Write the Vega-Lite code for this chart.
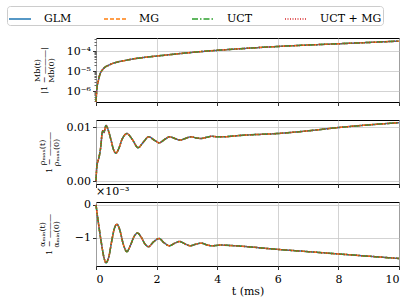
{
  "$schema": "https://vega.github.io/schema/vega-lite/v6.json",
  "padding": {"left": 6, "top": 5, "right": 5, "bottom": 5},
  "background": "white",
  "spacing": 18,
  "bounds": "flush",
  "datasets": {
    "m": [
      {"t": 0, "v": 2.9e-7}, {"t": 0.01, "v": 5e-7}, {"t": 0.02, "v": 9e-7}, {"t": 0.04, "v": 1.8e-6},
      {"t": 0.07, "v": 2.9e-6}, {"t": 0.1, "v": 4.8e-6}, {"t": 0.14, "v": 7.6e-6}, {"t": 0.2, "v": 1.1e-5},
      {"t": 0.31, "v": 1.64e-5}, {"t": 0.42, "v": 2.0e-5}, {"t": 0.53, "v": 2.4e-5}, {"t": 0.75, "v": 3.0e-5},
      {"t": 0.97, "v": 3.5e-5}, {"t": 1.25, "v": 4.2e-5}, {"t": 1.52, "v": 4.8e-5}, {"t": 2.01, "v": 5.8e-5},
      {"t": 2.5, "v": 7.0e-5}, {"t": 2.95, "v": 8.2e-5}, {"t": 3.5, "v": 9.8e-5}, {"t": 4, "v": 1.12e-4},
      {"t": 5, "v": 1.43e-4}, {"t": 6, "v": 1.76e-4}, {"t": 7, "v": 2.08e-4}, {"t": 8, "v": 2.4e-4},
      {"t": 9, "v": 2.8e-4}, {"t": 10, "v": 3.27e-4}
    ],
    "rho": [
      {"t": 0, "v": 0.0001}, {"t": 0.03, "v": 0.0029}, {"t": 0.07, "v": 0.0038}, {"t": 0.11, "v": 0.0047},
      {"t": 0.16, "v": 0.0065}, {"t": 0.2, "v": 0.0088}, {"t": 0.22, "v": 0.0093}, {"t": 0.26, "v": 0.009},
      {"t": 0.33, "v": 0.0103}, {"t": 0.4, "v": 0.0095}, {"t": 0.5, "v": 0.0075}, {"t": 0.58, "v": 0.0058},
      {"t": 0.66, "v": 0.0052}, {"t": 0.75, "v": 0.006}, {"t": 0.85, "v": 0.0076}, {"t": 1.02, "v": 0.0088},
      {"t": 1.2, "v": 0.0077}, {"t": 1.39, "v": 0.0062}, {"t": 1.56, "v": 0.0072}, {"t": 1.74, "v": 0.0082},
      {"t": 1.92, "v": 0.0076}, {"t": 2.09, "v": 0.0071}, {"t": 2.26, "v": 0.0077}, {"t": 2.43, "v": 0.0082},
      {"t": 2.6, "v": 0.0079}, {"t": 2.77, "v": 0.0076}, {"t": 2.95, "v": 0.0079}, {"t": 3.13, "v": 0.0082},
      {"t": 3.3, "v": 0.008}, {"t": 3.47, "v": 0.0079}, {"t": 3.65, "v": 0.0081}, {"t": 3.82, "v": 0.0083},
      {"t": 4.0, "v": 0.0082}, {"t": 4.15, "v": 0.0082}, {"t": 4.86, "v": 0.0085}, {"t": 5.97, "v": 0.0088},
      {"t": 7, "v": 0.0093}, {"t": 7.98, "v": 0.0099}, {"t": 9, "v": 0.0104}, {"t": 10, "v": 0.0108}
    ],
    "alpha": [
      {"t": 0, "v": 0}, {"t": 0.07, "v": -0.49}, {"t": 0.18, "v": -1.18}, {"t": 0.26, "v": -1.6},
      {"t": 0.33, "v": -1.77}, {"t": 0.42, "v": -1.6}, {"t": 0.52, "v": -1.1}, {"t": 0.6, "v": -0.74},
      {"t": 0.69, "v": -0.59}, {"t": 0.78, "v": -0.75}, {"t": 0.9, "v": -1.2}, {"t": 1.02, "v": -1.43},
      {"t": 1.13, "v": -1.25}, {"t": 1.25, "v": -0.98}, {"t": 1.37, "v": -0.86}, {"t": 1.5, "v": -1.0},
      {"t": 1.62, "v": -1.2}, {"t": 1.73, "v": -1.28}, {"t": 1.9, "v": -1.13}, {"t": 2.08, "v": -1.03},
      {"t": 2.25, "v": -1.16}, {"t": 2.42, "v": -1.25}, {"t": 2.6, "v": -1.17}, {"t": 2.76, "v": -1.12},
      {"t": 2.95, "v": -1.2}, {"t": 3.11, "v": -1.25}, {"t": 3.3, "v": -1.2}, {"t": 3.48, "v": -1.17},
      {"t": 3.65, "v": -1.22}, {"t": 3.82, "v": -1.25}, {"t": 4.1, "v": -1.23}, {"t": 4.74, "v": -1.26},
      {"t": 5.97, "v": -1.36}, {"t": 7, "v": -1.43}, {"t": 7.98, "v": -1.5}, {"t": 9, "v": -1.57},
      {"t": 10, "v": -1.64}
    ]
  },
  "config": {
    "font": "DejaVu Serif",
    "view": {"stroke": "black", "strokeWidth": 1},
    "axis": {
      "domain": false,
      "tickColor": "black",
      "tickSize": 3.5,
      "tickWidth": 0.8,
      "labelFont": "DejaVu Serif",
      "labelFontSize": 11,
      "labelColor": "black",
      "titleFont": "DejaVu Serif",
      "titleFontWeight": "normal",
      "titleColor": "black",
      "gridColor": "#c8c8c8",
      "gridWidth": 0.8
    },
    "legend": {
      "orient": "none",
      "legendX": -89,
      "legendY": -32,
      "direction": "horizontal",
      "columns": 4,
      "columnPadding": 29,
      "strokeColor": "#cccccc",
      "cornerRadius": 3,
      "padding": 1,
      "fillColor": "white",
      "symbolType": "stroke",
      "symbolSize": 484,
      "symbolStrokeWidth": 1.5,
      "labelFont": "DejaVu Serif",
      "labelFontSize": 11,
      "labelColor": "black",
      "labelOffset": 12
    },
    "title": {"font": "DejaVu Serif", "fontWeight": "normal", "fontSize": 11, "color": "black"}
  },
  "vconcat": [
    {
      "width": 303,
      "height": 64,
      "data": {"name": "m"},
      "encoding": {
        "x": {"field": "t", "type": "quantitative", "scale": {"domain": [0, 10], "nice": false},
              "axis": {"values": [0, 2, 4, 6, 8, 10], "labels": false, "title": null}},
        "y": {"field": "v", "type": "quantitative",
              "scale": {"type": "log", "domain": [2.8e-7, 4.7e-4], "nice": false},
              "axis": {"values": [1e-6, 1e-5, 1e-4],
                       "title": ["       Mb(t)", "|1 − ———|", "       Mb(0)"], "titleFontSize": 8, "titleLineHeight": 7,
                       "titleX": -59, "titleY": 32, "titleAngle": 270, "titleAlign": "center", "titleBaseline": "middle",
                       "labelExpr": "datum.value < 5e-6 ? '10⁻⁶' : datum.value < 5e-5 ? '10⁻⁵' : '10⁻⁴'"}}
      },
      "resolve": {"axis": {"y": "independent"}},
      "layer": [
        {"mark": {"type": "line", "strokeWidth": 1.5, "interpolate": "monotone"},
         "encoding": {"color": {"datum": "GLM", "scale": {"domain": ["GLM", "MG", "UCT", "UCT + MG"], "range": ["#1f77b4", "#ff7f0e", "#2ca02c", "#d62728"]}, "legend": {"title": null}},
                      "strokeDash": {"datum": "GLM", "scale": {"domain": ["GLM", "MG", "UCT", "UCT + MG"], "range": [[1, 0], [4, 2], [6, 2, 1.5, 2], [1, 1.5]]}, "legend": {"title": null}}}},
        {"mark": {"type": "line", "strokeWidth": 1.5, "interpolate": "monotone"},
         "encoding": {"y": {"field": "v", "type": "quantitative", "scale": {"type": "log", "domain": [2.8e-7, 4.7e-4], "nice": false}, "axis": null},
                      "color": {"datum": "MG", "legend": {"title": null}}, "strokeDash": {"datum": "MG", "legend": {"title": null}}}},
        {"mark": {"type": "line", "strokeWidth": 1.5, "interpolate": "monotone"},
         "encoding": {"y": {"field": "v", "type": "quantitative", "scale": {"type": "log", "domain": [2.8e-7, 4.7e-4], "nice": false}, "axis": null},
                      "color": {"datum": "UCT", "legend": {"title": null}}, "strokeDash": {"datum": "UCT", "legend": {"title": null}}}},
        {"mark": {"type": "line", "strokeWidth": 1.5, "interpolate": "monotone"},
         "encoding": {"y": {"field": "v", "type": "quantitative", "scale": {"type": "log", "domain": [2.8e-7, 4.7e-4], "nice": false},
                            "axis": {"orient": "left", "values": [3e-7, 4e-7, 5e-7, 6e-7, 7e-7, 8e-7, 9e-7, 2e-6, 3e-6, 4e-6, 5e-6, 6e-6, 7e-6, 8e-6, 9e-6, 2e-5, 3e-5, 4e-5, 5e-5, 6e-5, 7e-5, 8e-5, 9e-5, 2e-4, 3e-4, 4e-4],
                                     "labels": false, "grid": false, "tickSize": 2, "tickWidth": 0.6, "title": null}},
                      "color": {"datum": "UCT + MG", "legend": {"title": null}}, "strokeDash": {"datum": "UCT + MG", "legend": {"title": null}}}}
      ]
    },
    {
      "width": 303,
      "height": 64,
      "data": {"name": "rho"},
      "encoding": {
        "x": {"field": "t", "type": "quantitative", "scale": {"domain": [0, 10], "nice": false},
              "axis": {"values": [0, 2, 4, 6, 8, 10], "labels": false, "title": null}},
        "y": {"field": "v", "type": "quantitative", "scale": {"domain": [-0.0005, 0.0113], "nice": false},
              "axis": {"values": [0, 0.01], "format": ".2f",
                       "title": ["       ρₘₐₓ(t)", "1 − ———", "       ρₘₐₓ(0)"], "titleFontSize": 8, "titleLineHeight": 7,
                       "titleX": -54, "titleY": 32, "titleAngle": 270, "titleAlign": "center", "titleBaseline": "middle"}}
      },
      "layer": [
        {"mark": {"type": "line", "strokeWidth": 1.5, "interpolate": "monotone"},
         "encoding": {"color": {"datum": "GLM", "legend": {"title": null}}, "strokeDash": {"datum": "GLM", "legend": {"title": null}}}},
        {"mark": {"type": "line", "strokeWidth": 1.5, "interpolate": "monotone"},
         "encoding": {"color": {"datum": "MG", "legend": {"title": null}}, "strokeDash": {"datum": "MG", "legend": {"title": null}}}},
        {"mark": {"type": "line", "strokeWidth": 1.5, "interpolate": "monotone"},
         "encoding": {"color": {"datum": "UCT", "legend": {"title": null}}, "strokeDash": {"datum": "UCT", "legend": {"title": null}}}},
        {"mark": {"type": "line", "strokeWidth": 1.5, "interpolate": "monotone"},
         "encoding": {"color": {"datum": "UCT + MG", "legend": {"title": null}}, "strokeDash": {"datum": "UCT + MG", "legend": {"title": null}}}}
      ]
    },
    {
      "width": 303,
      "height": 64,
      "data": {"name": "alpha"},
      "title": {"text": "×10⁻³", "anchor": "start", "frame": "group", "offset": 2, "fontSize": 11},
      "encoding": {
        "x": {"field": "t", "type": "quantitative", "scale": {"domain": [0, 10], "nice": false},
              "axis": {"values": [0, 2, 4, 6, 8, 10], "title": "t (ms)", "titleFontSize": 11, "labelPadding": 4, "titlePadding": 1}},
        "y": {"field": "v", "type": "quantitative", "scale": {"domain": [-1.87, 0.09], "nice": false},
              "axis": {"values": [0, -1], "format": "d",
                       "title": ["       αₘᵢₙ(t)", "1 − ———", "       αₘᵢₙ(0)"], "titleFontSize": 8, "titleLineHeight": 7,
                       "titleX": -54, "titleY": 32, "titleAngle": 270, "titleAlign": "center", "titleBaseline": "middle"}}
      },
      "layer": [
        {"mark": {"type": "line", "strokeWidth": 1.5, "interpolate": "monotone"},
         "encoding": {"color": {"datum": "GLM", "legend": {"title": null}}, "strokeDash": {"datum": "GLM", "legend": {"title": null}}}},
        {"mark": {"type": "line", "strokeWidth": 1.5, "interpolate": "monotone"},
         "encoding": {"color": {"datum": "MG", "legend": {"title": null}}, "strokeDash": {"datum": "MG", "legend": {"title": null}}}},
        {"mark": {"type": "line", "strokeWidth": 1.5, "interpolate": "monotone"},
         "encoding": {"color": {"datum": "UCT", "legend": {"title": null}}, "strokeDash": {"datum": "UCT", "legend": {"title": null}}}},
        {"mark": {"type": "line", "strokeWidth": 1.5, "interpolate": "monotone"},
         "encoding": {"color": {"datum": "UCT + MG", "legend": {"title": null}}, "strokeDash": {"datum": "UCT + MG", "legend": {"title": null}}}}
      ]
    }
  ]
}
